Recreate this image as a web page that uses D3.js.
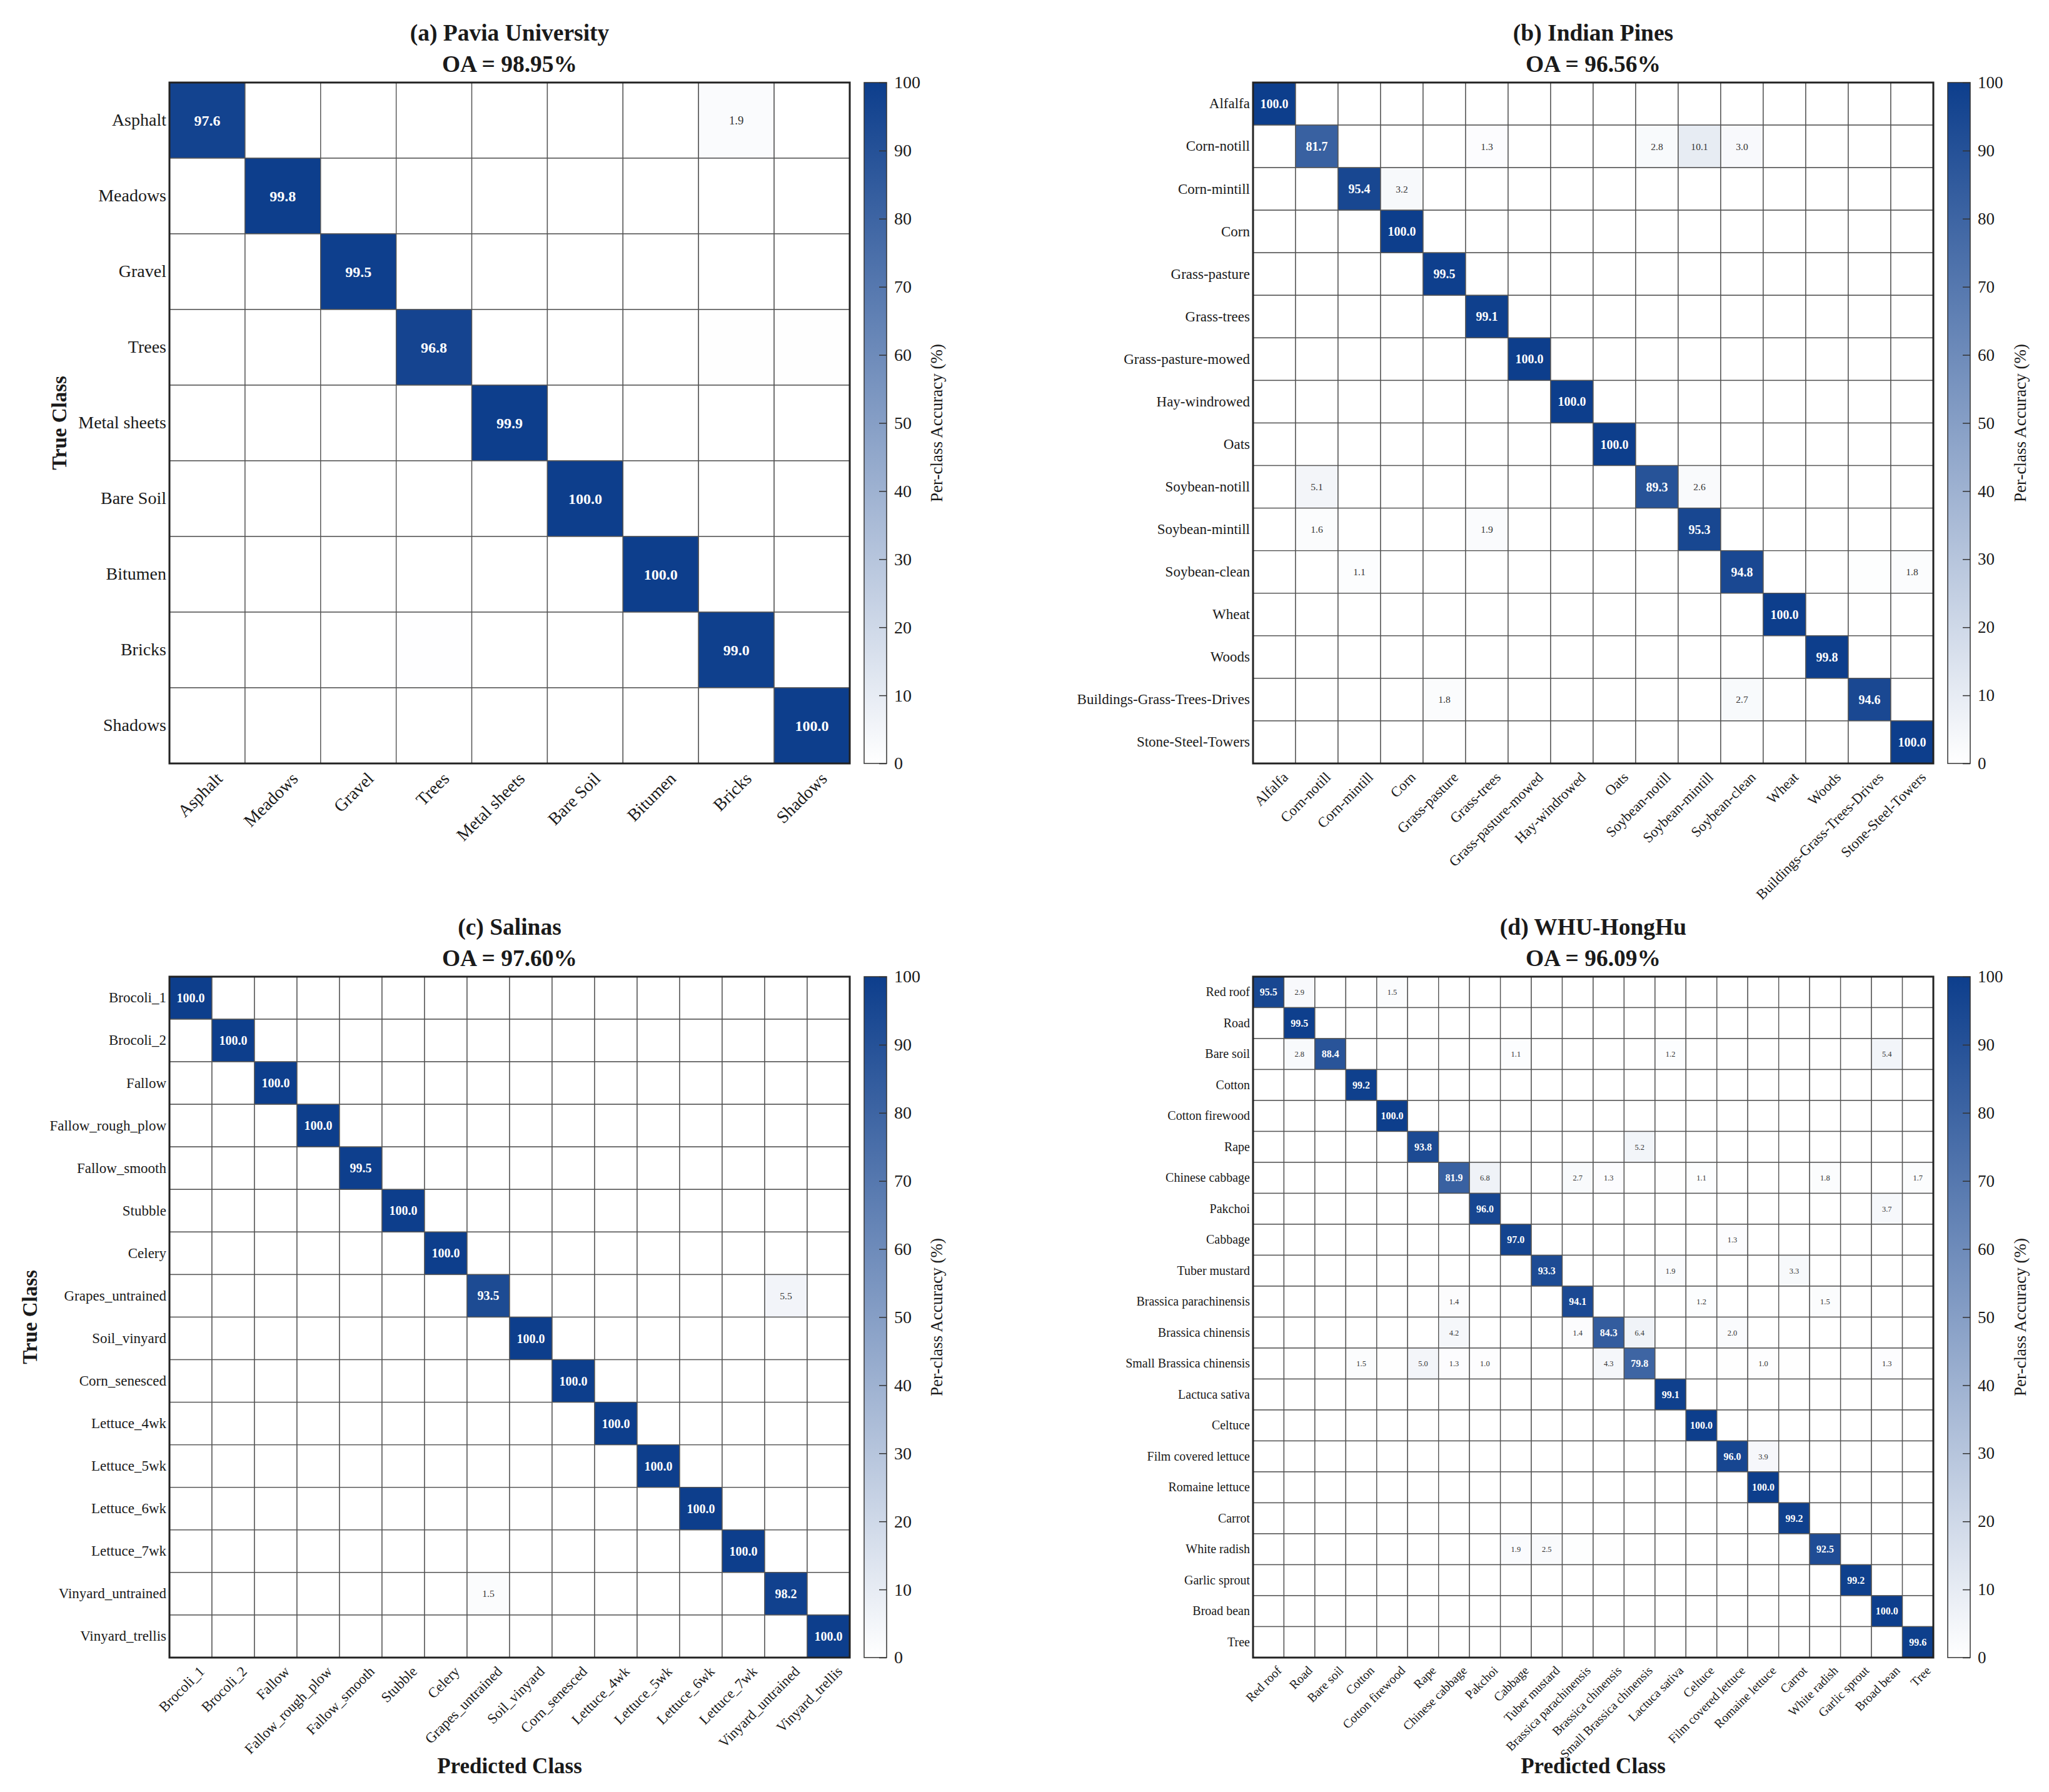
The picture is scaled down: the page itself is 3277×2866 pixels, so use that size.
<!DOCTYPE html>
<html>
<head>
<meta charset="utf-8">
<script src="https://cdn.jsdelivr.net/npm/d3@7"></script>
<style>
  body { margin: 0; background: #fff; }
  text { font-family: "Liberation Serif", "DejaVu Serif", serif; fill: #1a1a1a; }
</style>
</head>
<body>
<div class="chart"></div>
<script>
// ---- data ----
const paviaClasses = ['Asphalt', 'Meadows', 'Gravel', 'Trees', 'Metal sheets', 'Bare Soil', 'Bitumen', 'Bricks', 'Shadows'];
const paviaDiag = [97.6, 99.8, 99.5, 96.8, 99.9, 100.0, 100.0, 99.0, 100.0];
const paviaOff = [
  ['Asphalt', 'Bricks', 1.9],
  ['Trees', 'Bricks', 0.6],
  ['Trees', 'Shadows', 0.5],
  ['Bricks', 'Trees', 0.4]
];

const indianClasses = ['Alfalfa', 'Corn-notill', 'Corn-mintill', 'Corn', 'Grass-pasture', 'Grass-trees',
  'Grass-pasture-mowed', 'Hay-windrowed', 'Oats', 'Soybean-notill', 'Soybean-mintill', 'Soybean-clean',
  'Wheat', 'Woods', 'Buildings-Grass-Trees-Drives', 'Stone-Steel-Towers'];
const indianDiag = [100.0, 81.7, 95.4, 100.0, 99.5, 99.1, 100.0, 100.0, 100.0, 89.3, 95.3, 94.8, 100.0, 99.8, 94.6, 100.0];
const indianOff = [
  ['Corn-notill', 'Grass-trees', 1.3],
  ['Corn-notill', 'Soybean-notill', 2.8],
  ['Corn-notill', 'Soybean-mintill', 10.1],
  ['Corn-notill', 'Soybean-clean', 3.0],
  ['Corn-mintill', 'Corn', 3.2],
  ['Soybean-notill', 'Corn-notill', 5.1],
  ['Soybean-notill', 'Soybean-mintill', 2.6],
  ['Soybean-mintill', 'Corn-notill', 1.6],
  ['Soybean-mintill', 'Grass-trees', 1.9],
  ['Soybean-clean', 'Corn-mintill', 1.1],
  ['Soybean-clean', 'Buildings-Grass-Trees-Drives', 0.7],
  ['Soybean-clean', 'Stone-Steel-Towers', 1.8],
  ['Buildings-Grass-Trees-Drives', 'Grass-pasture', 1.8],
  ['Buildings-Grass-Trees-Drives', 'Soybean-clean', 2.7]
];

const salinasClasses = ['Brocoli_1', 'Brocoli_2', 'Fallow', 'Fallow_rough_plow', 'Fallow_smooth', 'Stubble',
  'Celery', 'Grapes_untrained', 'Soil_vinyard', 'Corn_senesced', 'Lettuce_4wk', 'Lettuce_5wk',
  'Lettuce_6wk', 'Lettuce_7wk', 'Vinyard_untrained', 'Vinyard_trellis'];
const salinasDiag = [100.0, 100.0, 100.0, 100.0, 99.5, 100.0, 100.0, 93.5, 100.0, 100.0, 100.0, 100.0, 100.0, 100.0, 98.2, 100.0];
const salinasOff = [
  ['Grapes_untrained', 'Vinyard_untrained', 5.5],
  ['Vinyard_untrained', 'Grapes_untrained', 1.5]
];

const honghuClasses = ['Red roof', 'Road', 'Bare soil', 'Cotton', 'Cotton firewood', 'Rape', 'Chinese cabbage',
  'Pakchoi', 'Cabbage', 'Tuber mustard', 'Brassica parachinensis', 'Brassica chinensis',
  'Small Brassica chinensis', 'Lactuca sativa', 'Celtuce', 'Film covered lettuce', 'Romaine lettuce',
  'Carrot', 'White radish', 'Garlic sprout', 'Broad bean', 'Tree'];
const honghuDiag = [95.5, 99.5, 88.4, 99.2, 100.0, 93.8, 81.9, 96.0, 97.0, 93.3, 94.1, 84.3, 79.8, 99.1,
  100.0, 96.0, 100.0, 99.2, 92.5, 99.2, 100.0, 99.6];
const honghuOff = [
  ['Red roof', 'Road', 2.9],
  ['Red roof', 'Cotton firewood', 1.5],
  ['Bare soil', 'Road', 2.8],
  ['Bare soil', 'Cabbage', 1.1],
  ['Bare soil', 'Lactuca sativa', 1.2],
  ['Bare soil', 'Broad bean', 5.4],
  ['Rape', 'Small Brassica chinensis', 5.2],
  ['Chinese cabbage', 'Pakchoi', 6.8],
  ['Chinese cabbage', 'Brassica parachinensis', 2.7],
  ['Chinese cabbage', 'Brassica chinensis', 1.3],
  ['Chinese cabbage', 'Lactuca sativa', 0.6],
  ['Chinese cabbage', 'Celtuce', 1.1],
  ['Chinese cabbage', 'White radish', 1.8],
  ['Chinese cabbage', 'Tree', 1.7],
  ['Pakchoi', 'Broad bean', 3.7],
  ['Cabbage', 'Film covered lettuce', 1.3],
  ['Tuber mustard', 'Lactuca sativa', 1.9],
  ['Tuber mustard', 'Carrot', 3.3],
  ['Brassica parachinensis', 'Chinese cabbage', 1.4],
  ['Brassica parachinensis', 'Celtuce', 1.2],
  ['Brassica parachinensis', 'White radish', 1.5],
  ['Brassica chinensis', 'Chinese cabbage', 4.2],
  ['Brassica chinensis', 'Brassica parachinensis', 1.4],
  ['Brassica chinensis', 'Small Brassica chinensis', 6.4],
  ['Brassica chinensis', 'Film covered lettuce', 2.0],
  ['Small Brassica chinensis', 'Cotton', 1.5],
  ['Small Brassica chinensis', 'Cotton firewood', 0.6],
  ['Small Brassica chinensis', 'Rape', 5.0],
  ['Small Brassica chinensis', 'Chinese cabbage', 1.3],
  ['Small Brassica chinensis', 'Pakchoi', 1.0],
  ['Small Brassica chinensis', 'Brassica chinensis', 4.3],
  ['Small Brassica chinensis', 'Film covered lettuce', 0.6],
  ['Small Brassica chinensis', 'Romaine lettuce', 1.0],
  ['Small Brassica chinensis', 'Carrot', 0.5],
  ['Small Brassica chinensis', 'Broad bean', 1.3],
  ['Film covered lettuce', 'Romaine lettuce', 3.9],
  ['White radish', 'Cabbage', 1.9],
  ['White radish', 'Tuber mustard', 2.5],
  ['White radish', 'Brassica parachinensis', 0.7],
  ['White radish', 'Brassica chinensis', 0.6]
];

const cbTicks = [0, 10, 20, 30, 40, 50, 60, 70, 80, 90, 100];

// ---- layout ----
const W = 3277, H = 2866;
const svg = d3.select('.chart').append('svg')
  .attr('width', W).attr('height', H);
svg.append('rect').attr('width', W).attr('height', H).attr('fill', '#fff');

const defs = svg.append('defs');
const grad = defs.append('linearGradient')
  .attr('id', 'cbgrad').attr('x1', 0).attr('y1', 1).attr('x2', 0).attr('y2', 0);
grad.append('stop').attr('offset', '0%').attr('stop-color', '#ffffff');
grad.append('stop').attr('offset', '100%').attr('stop-color', '#0d3e8c');

const color = d3.scaleLinear().domain([0, 100]).range(['#ffffff', '#0d3e8c']);

function buildMatrix(classes, diag, off) {
  const cells = [];
  classes.forEach((r, i) => {
    classes.forEach((c, j) => {
      cells.push({ row: r, col: c, v: i === j ? diag[i] : 0 });
    });
  });
  off.forEach(([r, c, v]) => {
    const cell = cells.find(d => d.row === r && d.col === c);
    cell.v = v;
  });
  return cells;
}

function drawPanel(cfg) {
  const g = svg.append('g');
  const x0 = cfg.x, x1 = cfg.x + 1088, y0 = cfg.y, y1 = cfg.y + 1089;
  const x = d3.scaleBand().domain(cfg.classes).range([x0, x1]);
  const y = d3.scaleBand().domain(cfg.classes).range([y0, y1]);
  const cells = buildMatrix(cfg.classes, cfg.diag, cfg.off);

  g.selectAll('.cell').data(cells).enter().append('rect')
    .attr('class', 'cell')
    .attr('x', d => x(d.col))
    .attr('y', d => y(d.row))
    .attr('width', x.bandwidth())
    .attr('height', y.bandwidth())
    .attr('fill', d => color(d.v))
    .attr('stroke', '#555')
    .attr('stroke-width', 1.4);

  g.selectAll('.val').data(cells.filter(d => d.v >= 1)).enter().append('text')
    .attr('class', 'val')
    .attr('x', d => x(d.col) + x.bandwidth() / 2)
    .attr('y', d => y(d.row) + y.bandwidth() / 2)
    .attr('dy', '0.35em')
    .attr('text-anchor', 'middle')
    .style('font-size', d => (d.v >= 50 ? cfg.valSize : cfg.valSize * 0.78) + 'px')
    .style('font-weight', d => d.v >= 50 ? 'bold' : 'normal')
    .style('fill', d => d.v >= 50 ? '#ffffff' : '#333')
    .text(d => d.v.toFixed(1));

  // frame
  g.append('rect')
    .attr('x', x0).attr('y', y0)
    .attr('width', x1 - x0).attr('height', y1 - y0)
    .attr('fill', 'none').attr('stroke', '#222').attr('stroke-width', 3);

  // y axis
  const ya = g.append('g')
    .attr('transform', `translate(${x0},0)`)
    .call(d3.axisLeft(y).tickSize(0).tickPadding(5));
  ya.select('.domain').remove();
  ya.selectAll('text')
    .style('font-size', cfg.labelSize + 'px')
    .style('font-family', '"Liberation Serif", serif')
    .attr('fill', '#1a1a1a');

  // x axis, labels rotated 45 degrees
  const off = cfg.labelSize * 0.5 + 12;
  const xa = g.append('g')
    .attr('transform', `translate(0,${y1})`)
    .call(d3.axisBottom(x).tickSize(0).tickPadding(0));
  xa.select('.domain').remove();
  xa.selectAll('text')
    .style('font-size', cfg.labelSize + 'px')
    .style('font-family', '"Liberation Serif", serif')
    .attr('fill', '#1a1a1a')
    .attr('text-anchor', 'end')
    .attr('y', 0)
    .attr('dy', '0')
    .attr('transform', `translate(${off},${off}) rotate(-45)`);

  // titles
  const cx = (x0 + x1) / 2;
  g.append('text')
    .attr('x', cx).attr('y', y0 - 67)
    .attr('text-anchor', 'middle')
    .style('font-size', '37.5px').style('font-weight', 'bold')
    .text(cfg.title);
  g.append('text')
    .attr('x', cx).attr('y', y0 - 17)
    .attr('text-anchor', 'middle')
    .style('font-size', '37.5px').style('font-weight', 'bold')
    .text('OA = ' + cfg.oa);

  if (cfg.yTitleX !== undefined) {
    g.append('text')
      .attr('transform', `translate(${cfg.yTitleX},${(y0 + y1) / 2}) rotate(-90)`)
      .attr('text-anchor', 'middle')
      .attr('dy', '0.35em')
      .style('font-size', '33px').style('font-weight', 'bold')
      .text('True Class');
  }
  if (cfg.xTitleY !== undefined) {
    g.append('text')
      .attr('x', cx).attr('y', cfg.xTitleY)
      .attr('text-anchor', 'middle')
      .style('font-size', '35px').style('font-weight', 'bold')
      .text('Predicted Class');
  }

  // colorbar
  const cbx = x1 + 23, cbw = 36;
  const cb = d3.scaleLinear().domain([0, 100]).range([y1, y0]);
  g.append('rect')
    .attr('x', cbx).attr('y', y0)
    .attr('width', cbw).attr('height', y1 - y0)
    .attr('fill', 'url(#cbgrad)')
    .attr('stroke', '#333').attr('stroke-width', 1.5);
  const ca = g.append('g')
    .attr('transform', `translate(${cbx + cbw},0)`)
    .call(d3.axisRight(cb).tickValues(cbTicks).tickSize(-12).tickPadding(12));
  ca.select('.domain').remove();
  ca.selectAll('line').attr('stroke', '#333').attr('stroke-width', 1.5);
  ca.selectAll('text')
    .style('font-size', cfg.cbSize + 'px')
    .style('font-family', '"Liberation Serif", serif')
    .attr('fill', '#1a1a1a');
  g.append('text')
    .attr('transform', `translate(${cbx + cbw + 80},${(y0 + y1) / 2}) rotate(-90)`)
    .attr('text-anchor', 'middle')
    .attr('dy', '0.35em')
    .style('font-size', '27px')
    .text('Per-class Accuracy (%)');
}

drawPanel({ classes: paviaClasses, diag: paviaDiag, off: paviaOff, x: 271, y: 132,
  title: '(a) Pavia University', oa: '98.95%', labelSize: 28, valSize: 24, cbSize: 28, yTitleX: 94 });
drawPanel({ classes: indianClasses, diag: indianDiag, off: indianOff, x: 2004, y: 132,
  title: '(b) Indian Pines', oa: '96.56%', labelSize: 23, valSize: 20, cbSize: 27 });
drawPanel({ classes: salinasClasses, diag: salinasDiag, off: salinasOff, x: 271, y: 1562,
  title: '(c) Salinas', oa: '97.60%', labelSize: 23, valSize: 20, cbSize: 28, yTitleX: 47, xTitleY: 2836 });
drawPanel({ classes: honghuClasses, diag: honghuDiag, off: honghuOff, x: 2004, y: 1562,
  title: '(d) WHU-HongHu', oa: '96.09%', labelSize: 20, valSize: 16, cbSize: 27, xTitleY: 2836 });
</script>
</body>
</html>
